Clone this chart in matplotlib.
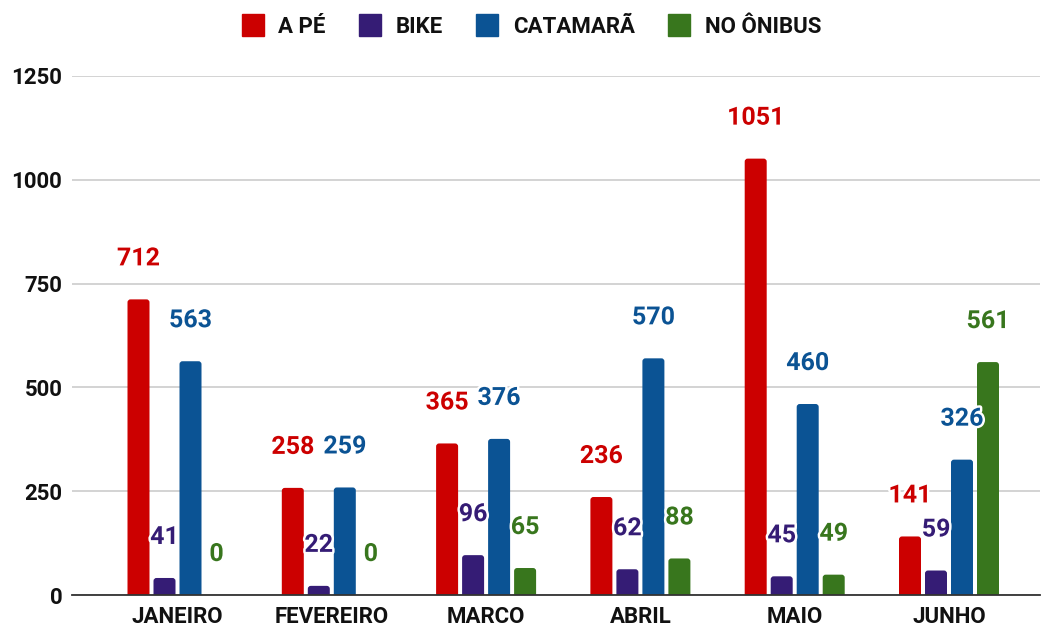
import matplotlib
matplotlib.use("Agg")
import matplotlib.pyplot as plt
import matplotlib.patheffects as pe
from matplotlib.patches import FancyBboxPatch
from matplotlib.lines import Line2D
import numpy as np

months = ["JANEIRO", "FEVEREIRO", "MARCO", "ABRIL", "MAIO", "JUNHO"]
series_names = ["A PÉ", "BIKE", "CATAMARÃ", "NO ÔNIBUS"]
a_pe = [712, 258, 365, 236, 1051, 141]
bike = [41, 22, 96, 62, 45, 59]
catamara = [563, 259, 376, 570, 460, 326]
no_onibus = [0, 0, 65, 88, 49, 561]
colors = ["#cc0000", "#351c75", "#0b5394", "#38761d"]
y_ticks = [0, 250, 500, 750, 1000, 1250]

series = [a_pe, bike, catamara, no_onibus]

W, H = 1042, 627
fig = plt.figure(figsize=(W / 100, H / 100), dpi=100)
ax = fig.add_axes([72 / W, 1 - 595 / H, (1040 - 72) / W, (595 - 76) / H])

x = np.arange(len(months))
pitch = 26 / 154.3
bw = 22 / 154.3
ax.set_xlim((72 - 177.5) / 154.3, (1040 - 177.5) / 154.3)
ax.set_ylim(0, 1250)

# px per data unit
px_x = 154.3
px_y = (595 - 76) / 1250.0
rad_px = 3.0

for i, (vals, c) in enumerate(zip(series, colors)):
    offs = (i - 1.5) * pitch
    bars = ax.bar(x + offs, vals, bw, color=c, alpha=0)
    for rect, v in zip(bars, vals):
        if v > 0:
            p = FancyBboxPatch((rect.get_x(), -20), rect.get_width(), rect.get_height() + 20,
                               boxstyle=f"round,pad=0,rounding_size={rad_px / px_x}",
                               mutation_aspect=px_x / px_y,
                               facecolor=c, edgecolor="none", zorder=3, clip_on=True)
            ax.add_patch(p)
        ax.annotate(str(v), (rect.get_x() + rect.get_width() / 2, v),
                    xytext=(0, 41 * 0.72), textcoords="offset points",
                    ha="center", va="center", color=c, fontsize=18,
                    fontfamily="Roboto", fontweight="bold", zorder=5,
                    path_effects=[pe.withStroke(linewidth=3.5, foreground="white")])

ax.set_yticks(y_ticks)
ax.set_xticks(x)
ax.set_xticklabels(months)
for lab in ax.get_xticklabels() + ax.get_yticklabels():
    lab.set_fontfamily("Roboto")
    lab.set_fontweight("bold")
    lab.set_fontsize(16)
    lab.set_color("#111111")
ax.tick_params(axis="both", length=0)
ax.tick_params(axis="y", pad=7)
ax.tick_params(axis="x", pad=8)
ax.grid(axis="y", color="#cccccc", linewidth=1.2, zorder=0)
ax.set_axisbelow(True)
for s in ["top", "right", "left"]:
    ax.spines[s].set_visible(False)
ax.spines["bottom"].set_color("#333333")
ax.spines["bottom"].set_linewidth(1.3)
ax.spines["bottom"].set_zorder(4)

handles = [Line2D([], [], marker="s", linestyle="none", markersize=15.5,
                  markerfacecolor=c, markeredgecolor=c) for c in colors]
leg = fig.legend(handles, series_names, loc="center", bbox_to_anchor=(531.5 / W, 1 - 27 / H),
                 ncol=4, frameon=False, handlelength=1.0, handletextpad=0.65,
                 columnspacing=1.5, prop={"family": "Roboto", "weight": "bold", "size": 16})
for t in leg.get_texts():
    t.set_color("#111111")

fig.savefig("out.png", dpi=100)
